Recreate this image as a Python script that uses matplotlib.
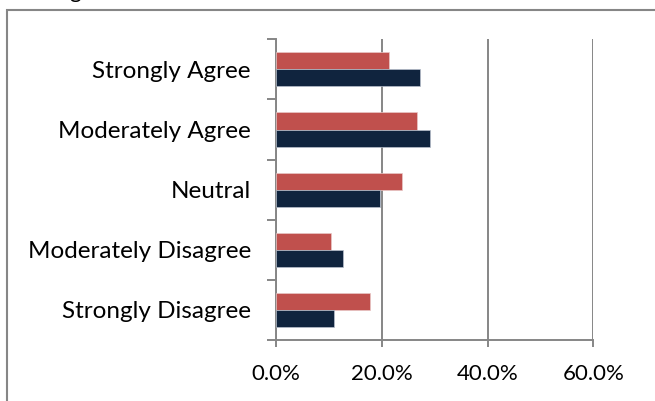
import matplotlib.pyplot as plt
from matplotlib.patches import Rectangle
from matplotlib.ticker import PercentFormatter
import numpy as np

plt.rcParams['font.family'] = ['Lato', 'DejaVu Sans']

categories = ['Strongly Disagree', 'Moderately Disagree', 'Neutral',
              'Moderately Agree', 'Strongly Agree']
red_vals = [17.8, 10.4, 23.8, 26.7, 21.3]
navy_vals = [11.0, 12.7, 19.7, 29.2, 27.3]
xticks = [0, 20, 40, 60]

fig = plt.figure(figsize=(6.55, 4.01), dpi=100)
ax = fig.add_axes([276 / 655, 1 - 340 / 401, (593.3 - 276) / 655, (340 - 39.3) / 401])

y = np.arange(len(categories))
h = 0.283
ax.barh(y + h / 2, red_vals, height=h, color='#C0504D', edgecolor='#E8C8C7', lw=0.5, zorder=3)
ax.barh(y - h / 2, navy_vals, height=h, color='#10243E', edgecolor='#B8C0CC', lw=0.5, zorder=3)

ax.set_xlim(0, 60)
ax.set_ylim(-0.5, len(categories) - 0.5)
ax.set_xticks(xticks)
ax.xaxis.set_major_formatter(PercentFormatter(decimals=1))
ax.set_yticks(np.arange(-0.5, len(categories), 1.0))
ax.set_yticklabels([])
ax.set_yticks(y, minor=True)
ax.set_yticklabels(categories, minor=True)
ax.tick_params(axis='y', which='major', direction='out', length=6.5, width=1.4, color='#868686')
ax.tick_params(axis='y', which='minor', length=0, pad=18, labelsize=17.5)
ax.tick_params(axis='x', direction='out', length=5, width=1.4, color='#868686', pad=12, labelsize=16)

ax.grid(axis='x', color='#868686', lw=1.4, zorder=0)
for s in ['top', 'right']:
    ax.spines[s].set_visible(False)
for s in ['left', 'bottom']:
    ax.spines[s].set_color('#868686')
    ax.spines[s].set_linewidth(1.4)

# outer chart border, cut off by the picture edge
fig.patches.append(Rectangle((7 / 655, -0.1), 1.2, 1 - 10 / 401 + 0.1, transform=fig.transFigure,
                             fill=False, edgecolor='#868686', lw=1.5))
# descender of the title line above, cut off
fig.text(75 / 655, 1 + 2 / 401, 'g', ha='center', va='baseline', fontsize=16)

fig.savefig('out.png', dpi=100)
